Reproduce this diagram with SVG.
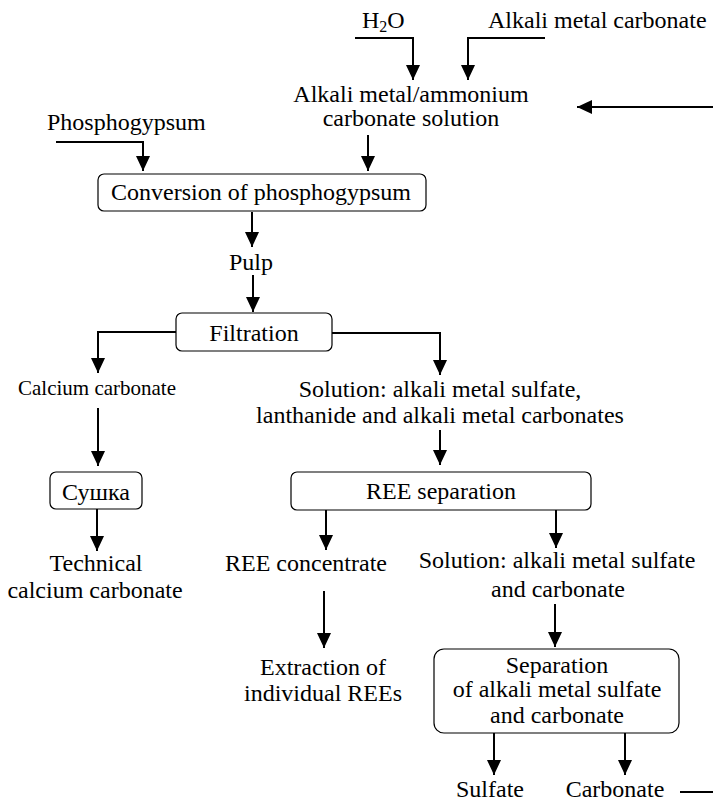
<svg xmlns="http://www.w3.org/2000/svg" width="713" height="801" viewBox="0 0 713 801" font-family="'Liberation Serif', 'Times New Roman', Times, serif">
<style>
  text { font-family: 'Liberation Serif', 'Times New Roman', Times, serif; font-size: 24px; fill: #000; }
  .c { text-anchor: middle; }
  .small { font-size: 21px; }
  .box { fill: #fff; stroke: #000; stroke-width: 1.2; }
  .ln { fill: none; stroke: #000; stroke-width: 2; }
</style>
<defs>
  <marker id="ah" markerUnits="userSpaceOnUse" markerWidth="15" markerHeight="14" refX="15" refY="7" orient="auto">
    <path d="M0,0 L15,7 L0,14 Z" fill="#000"/>
  </marker>
</defs>

<g id="connectors">
  <polyline class="ln" points="355,38 413,38 413,80" marker-end="url(#ah)"/>
  <polyline class="ln" points="545,38 468,38 468,80" marker-end="url(#ah)"/>
  <line class="ln" x1="713" y1="107" x2="577" y2="107" marker-end="url(#ah)"/>
  <polyline class="ln" points="56,142 143,142 143,171" marker-end="url(#ah)"/>
  <line class="ln" x1="368" y1="135" x2="368" y2="171" marker-end="url(#ah)"/>
  <line class="ln" x1="252" y1="212" x2="252" y2="247" marker-end="url(#ah)"/>
  <line class="ln" x1="253" y1="275" x2="253" y2="312" marker-end="url(#ah)"/>
  <polyline class="ln" points="176,332 98,332 98,373" marker-end="url(#ah)"/>
  <polyline class="ln" points="332,333 440,333 440,375" marker-end="url(#ah)"/>
  <line class="ln" x1="98" y1="408" x2="98" y2="466" marker-end="url(#ah)"/>
  <line class="ln" x1="440" y1="430" x2="440" y2="465" marker-end="url(#ah)"/>
  <line class="ln" x1="97" y1="509" x2="97" y2="551" marker-end="url(#ah)"/>
  <line class="ln" x1="326" y1="510" x2="326" y2="550" marker-end="url(#ah)"/>
  <line class="ln" x1="556" y1="510" x2="556" y2="548" marker-end="url(#ah)"/>
  <line class="ln" x1="324" y1="591" x2="324" y2="648" marker-end="url(#ah)"/>
  <line class="ln" x1="555" y1="604" x2="555" y2="647" marker-end="url(#ah)"/>
  <line class="ln" x1="494" y1="733" x2="494" y2="775" marker-end="url(#ah)"/>
  <line class="ln" x1="625" y1="733" x2="625" y2="775" marker-end="url(#ah)"/>
  <line class="ln" x1="680" y1="792" x2="713" y2="792"/>
</g>

<g id="h2o"><text x="362" y="28">H<tspan font-size="16" dy="4">2</tspan><tspan dy="-4">O</tspan></text></g>
<g id="alkali-carbonate"><text x="488" y="28">Alkali metal carbonate</text></g>
<g id="carbonate-solution">
  <text class="c" x="411" y="102">Alkali metal/ammonium</text>
  <text class="c" x="411" y="126">carbonate solution</text>
</g>
<g id="phosphogypsum"><text x="47" y="130">Phosphogypsum</text></g>
<g id="conversion">
  <rect class="box" x="98" y="174" width="328" height="37" rx="6"/>
  <text class="c" x="261" y="200">Conversion of phosphogypsum</text>
</g>
<g id="pulp"><text class="c" x="251" y="270">Pulp</text></g>
<g id="filtration">
  <rect class="box" x="176" y="313" width="156" height="38" rx="6"/>
  <text class="c" x="254" y="341">Filtration</text>
</g>
<g id="calcium-carbonate"><text class="c small" x="97" y="395">Calcium carbonate</text></g>
<g id="solution1">
  <text class="c" x="440" y="397">Solution: alkali metal sulfate,</text>
  <text class="c" x="440" y="423">lanthanide and alkali metal carbonates</text>
</g>
<g id="sushka">
  <rect class="box" x="50" y="472" width="92" height="37" rx="6"/>
  <text class="c" x="96" y="500">Сушка</text>
</g>
<g id="ree-separation">
  <rect class="box" x="291" y="472" width="300" height="38" rx="6"/>
  <text class="c" x="441" y="499">REE separation</text>
</g>
<g id="technical">
  <text class="c" x="96" y="571">Technical</text>
  <text class="c" x="95" y="598">calcium carbonate</text>
</g>
<g id="ree-concentrate"><text class="c" x="306" y="571">REE concentrate</text></g>
<g id="solution2">
  <text class="c" x="557" y="568">Solution: alkali metal sulfate</text>
  <text class="c" x="558" y="597">and carbonate</text>
</g>
<g id="extraction">
  <text class="c" x="323" y="675">Extraction of</text>
  <text class="c" x="323" y="701">individual REEs</text>
</g>
<g id="separation">
  <rect class="box" x="434" y="649" width="245" height="84" rx="10"/>
  <text class="c" x="557" y="673">Separation</text>
  <text class="c" x="557" y="697">of alkali metal sulfate</text>
  <text class="c" x="557" y="723">and carbonate</text>
</g>
<g id="sulfate"><text class="c" x="490" y="797">Sulfate</text></g>
<g id="carbonate"><text class="c" x="615" y="797">Carbonate</text></g>
</svg>
